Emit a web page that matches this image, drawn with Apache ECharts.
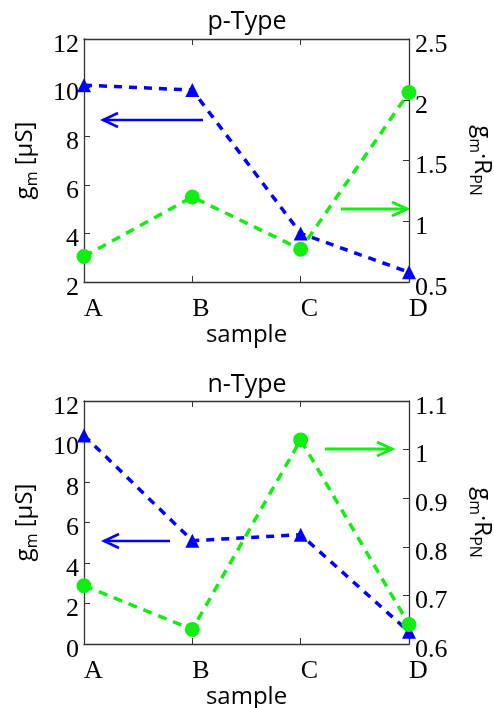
<!DOCTYPE html>
<html>
<head>
<meta charset="utf-8">
<script src="https://cdn.jsdelivr.net/npm/echarts@6/dist/echarts.min.js"></script>
<style>
html, body { margin: 0; padding: 0; background: #fff; }
#chart { width: 494px; height: 708px; }
</style>
</head>
<body>
<div id="chart"></div>
<script>
const samples = ["A", "B", "C", "D"];
// p-Type panel
const pGm = [10.1, 9.9, 4.0, 2.4];
const pGmR = [0.71, 1.2, 0.77, 2.06];
// n-Type panel
const nGm = [10.3, 5.1, 5.4, 0.6];
const nGmR = [0.72, 0.63, 1.02, 0.64];

const BLUE = "#0000ff";
const GREEN = "#11ee11";
const AXIS = "#333";
const serif = "Liberation Serif";
const sans = "Open Sans";

const leftName = "{a|g}{s|m}{a| [µS]}";
const rightName = "{a|g}{s|m}{a|·R}{s|PN}";
const nameRich = {
    a: { fontFamily: sans, fontSize: 24, lineHeight: 30, color: "#000" },
    s: { fontFamily: sans, fontSize: 16, lineHeight: 16, verticalAlign: "bottom", color: "#000" }
};

const xBottom = (grid) => ({
    type: "category",
    gridIndex: grid,
    data: samples,
    boundaryGap: false,
    position: "bottom",
    name: "sample",
    nameLocation: "middle",
    nameGap: 41,
    nameTextStyle: { fontFamily: sans, fontSize: 24, color: "#000" },
    axisLine: { lineStyle: { color: AXIS, width: 1.3 } },
    axisTick: { inside: true, length: 6, lineStyle: { color: AXIS } },
    axisLabel: { fontFamily: serif, fontSize: 26, color: "#000", align: "left", margin: 14 }
});

const xTop = (grid) => ({
    type: "category",
    gridIndex: grid,
    data: samples,
    boundaryGap: false,
    position: "top",
    axisLine: { lineStyle: { color: AXIS, width: 1.3 } },
    axisTick: { inside: true, length: 6, lineStyle: { color: AXIS } },
    axisLabel: { show: false }
});

const yLeft = (grid, min, max, step) => ({
    type: "value",
    gridIndex: grid,
    position: "left",
    min: min, max: max, interval: step,
    name: leftName,
    nameLocation: "middle",
    nameRotate: 90,
    nameGap: 44,
    nameTextStyle: { rich: nameRich },
    splitLine: { show: false },
    axisLine: { show: true, lineStyle: { color: AXIS, width: 1.3 } },
    axisTick: { show: true, inside: true, length: 6, lineStyle: { color: AXIS } },
    axisLabel: { fontFamily: serif, fontSize: 26, color: "#000", margin: 5, verticalAlign: "top", lineHeight: 12 }
});

const yRight = (grid, min, max, step) => ({
    type: "value",
    gridIndex: grid,
    position: "right",
    min: min, max: max, interval: step,
    name: rightName,
    nameLocation: "middle",
    nameRotate: -90,
    nameGap: 58,
    nameTextStyle: { rich: nameRich },
    splitLine: { show: false },
    axisLine: { show: true, lineStyle: { color: AXIS, width: 1.3 } },
    axisTick: { show: true, inside: true, length: 6, lineStyle: { color: AXIS } },
    axisLabel: { fontFamily: serif, fontSize: 26, color: "#000", margin: 6, verticalAlign: "top", lineHeight: 12 }
});

const lineSeries = (data, xi, yi, color, symbol, size, dash) => ({
    type: "line",
    data: data,
    xAxisIndex: xi,
    yAxisIndex: yi,
    symbol: symbol,
    symbolSize: size,
    showAllSymbol: true,
    itemStyle: { color: color },
    lineStyle: { color: color, width: 3.5, type: dash },
    silent: true,
    animation: false
});

const arrow = (x1, x2, y, color, w) => {
    const dir = x2 > x1 ? 1 : -1;
    return {
        type: "group",
        children: [
            { type: "line", shape: { x1: x1, y1: y, x2: x2, y2: y }, style: { stroke: color, lineWidth: w } },
            { type: "polyline", shape: { points: [[x2 - dir * 15, y - 7], [x2, y], [x2 - dir * 15, y + 7]] },
              style: { stroke: color, lineWidth: w, fill: null } }
        ]
    };
};

const chart = echarts.init(document.getElementById("chart"));
chart.setOption({
    animation: false,
    title: [
        { text: "p-Type", left: "center", top: 4, textStyle: { fontFamily: sans, fontSize: 25, fontWeight: "normal", color: "#000" } },
        { text: "n-Type", left: "center", top: 367, textStyle: { fontFamily: sans, fontSize: 25, fontWeight: "normal", color: "#000" } }
    ],
    grid: [
        { left: 84, right: 85, top: 39, height: 243, containLabel: false, outerBoundsMode: "none" },
        { left: 84, right: 85, top: 401, height: 243, containLabel: false, outerBoundsMode: "none" }
    ],
    xAxis: [xBottom(0), xTop(0), xBottom(1), xTop(1)],
    yAxis: [
        yLeft(0, 2, 12, 2),
        yRight(0, 0.5, 2.5, 0.5),
        yLeft(1, 0, 12, 2),
        yRight(1, 0.6, 1.1, 0.1)
    ],
    series: [
        lineSeries(pGm, 0, 0, BLUE, "triangle", 14, [8, 7]),
        lineSeries(pGmR, 0, 1, GREEN, "circle", 15, [9, 7]),
        lineSeries(nGm, 2, 2, BLUE, "triangle", 14, [8, 7]),
        lineSeries(nGmR, 2, 3, GREEN, "circle", 15, [9, 7])
    ],
    graphic: [
        arrow(203, 103, 120, BLUE, 2.5),
        arrow(341, 407, 209, GREEN, 3),
        arrow(170, 104, 541, BLUE, 2.5),
        arrow(325, 392, 449, GREEN, 3)
    ]
});
</script>
</body>
</html>
